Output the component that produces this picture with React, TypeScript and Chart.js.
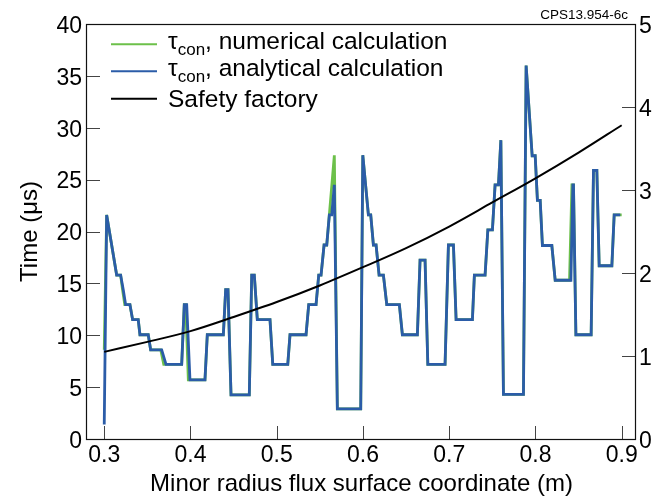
import React, { useEffect, useRef } from 'react';
import { Chart, registerables } from 'chart.js';

Chart.register(...registerables);

const FONT = '"Liberation Sans", Arial, Helvetica, sans-serif';

// x ticks and axis labels
const xTicks = [0.3, 0.4, 0.5, 0.6, 0.7, 0.8, 0.9];
const yTicks = [0, 5, 10, 15, 20, 25, 30, 35, 40];
const y2Ticks = [0, 1, 2, 3, 4, 5];
const xTitle = 'Minor radius flux surface coordinate (m)';
const yTitle = 'Time (\u03BCs)';
const stampText = 'CPS13.954-6c';

// tau_con, analytical calculation (blue)
const radiusAnalytical = [
  0.3000, 0.3028, 0.3144, 0.3190, 0.3220, 0.3248, 0.3298, 0.3329, 0.3394, 0.3414,
  0.3510, 0.3538, 0.3666, 0.3716, 0.3898, 0.3928, 0.3956, 0.3994, 0.4168, 0.4195,
  0.4381, 0.4408, 0.4435, 0.4470, 0.4682, 0.4710, 0.4740, 0.4775, 0.4922, 0.4954,
  0.5128, 0.5154, 0.5340, 0.5371, 0.5456, 0.5487, 0.5514, 0.5549, 0.5580, 0.5610,
  0.5638, 0.5668, 0.5703, 0.5974, 0.5998, 0.6063, 0.6090, 0.6121, 0.6152, 0.6187,
  0.6237, 0.6276, 0.6422, 0.6457, 0.6631, 0.6662, 0.6720, 0.6752, 0.6952, 0.6991,
  0.7049, 0.7080, 0.7269, 0.7292, 0.7416, 0.7448, 0.7501, 0.7532, 0.7571, 0.7599,
  0.7629, 0.7861, 0.7892, 0.7962, 0.7997, 0.8023, 0.8055, 0.8081, 0.8190, 0.8229,
  0.8411, 0.8434, 0.8441, 0.8469, 0.8646, 0.8673, 0.8712, 0.8739, 0.8886, 0.8913,
  0.8983,
];
const tauAnalytical = [
  1.4, 21.6, 15.8, 15.8, 14.4, 12.95, 12.95, 11.5, 11.5, 10.05,
  10.05, 8.6, 8.6, 7.2, 7.2, 12.95, 12.95, 5.7, 5.7, 10.05,
  10.05, 14.4, 14.4, 4.25, 4.25, 15.8, 15.8, 11.5, 11.5, 7.2,
  7.2, 10.05, 10.05, 12.95, 12.95, 15.8, 15.8, 18.7, 18.7, 21.6,
  21.6, 24.5, 2.9, 2.9, 27.35, 21.6, 21.6, 18.7, 18.7, 15.8,
  15.8, 12.95, 12.95, 10.05, 10.05, 17.25, 17.25, 7.2, 7.2, 18.7,
  18.7, 11.5, 11.5, 15.8, 15.8, 20.15, 20.15, 24.5, 24.5, 28.8,
  4.3, 4.3, 36.0, 27.3, 27.3, 23.0, 23.0, 18.65, 18.65, 15.3,
  15.3, 24.5, 24.5, 10.05, 10.05, 25.9, 25.9, 16.7, 16.7, 21.6,
  21.6,
];

// tau_con, numerical calculation (green)
const radiusNumerical = [
  0.3000, 0.3028, 0.3144, 0.3190, 0.3212, 0.3238, 0.3298, 0.3329, 0.3394, 0.3414,
  0.3510, 0.3538, 0.3655, 0.3690, 0.3898, 0.3928, 0.3945, 0.3975, 0.4168, 0.4195,
  0.4381, 0.4408, 0.4435, 0.4470, 0.4682, 0.4710, 0.4740, 0.4775, 0.4922, 0.4954,
  0.5128, 0.5154, 0.5340, 0.5371, 0.5456, 0.5487, 0.5514, 0.5549, 0.5580, 0.5610,
  0.5668, 0.5703, 0.5974, 0.5998, 0.6063, 0.6090, 0.6121, 0.6152, 0.6187, 0.6237,
  0.6276, 0.6422, 0.6457, 0.6631, 0.6662, 0.6720, 0.6752, 0.6952, 0.6991, 0.7049,
  0.7080, 0.7269, 0.7292, 0.7416, 0.7448, 0.7501, 0.7532, 0.7571, 0.7599, 0.7629,
  0.7861, 0.7892, 0.7962, 0.7997, 0.8023, 0.8055, 0.8081, 0.8190, 0.8229, 0.8395,
  0.8423, 0.8441, 0.8469, 0.8646, 0.8673, 0.8712, 0.8739, 0.8886, 0.8913, 0.9000,
];
const tauNumerical = [
  8.6, 21.6, 15.8, 15.8, 14.4, 12.95, 12.95, 11.5, 11.5, 10.05,
  10.05, 8.6, 8.6, 7.2, 7.2, 12.95, 12.95, 5.7, 5.7, 10.05,
  10.05, 14.4, 14.4, 4.25, 4.25, 15.8, 15.8, 11.5, 11.5, 7.2,
  7.2, 10.05, 10.05, 12.95, 12.95, 15.8, 15.8, 18.7, 18.7, 21.6,
  27.35, 2.9, 2.9, 27.35, 21.6, 21.6, 18.7, 18.7, 15.8, 15.8,
  12.95, 12.95, 10.05, 10.05, 17.25, 17.25, 7.2, 7.2, 18.7, 18.7,
  11.5, 11.5, 15.8, 15.8, 20.15, 20.15, 24.5, 24.5, 28.8, 4.3,
  4.3, 36.0, 27.3, 27.3, 23.0, 23.0, 18.65, 18.65, 15.3, 15.3,
  24.5, 24.5, 10.05, 10.05, 25.9, 25.9, 16.7, 16.7, 21.6, 21.6,
];

// Safety factor (right axis)
const radiusSafety = [0.30, 0.35, 0.40, 0.45, 0.50, 0.55, 0.60, 0.65, 0.70, 0.75, 0.80, 0.85, 0.90];
const safetyFactor = [1.05, 1.17, 1.30, 1.47, 1.65, 1.85, 2.07, 2.30, 2.56, 2.85, 3.14, 3.45, 3.78];

const GREEN = '#6cc04a';
const BLUE = '#2b5ca8';
const BLACK = '#000000';

const pts = (xs: number[], ys: number[]) => {
  const n = Math.min(xs.length, ys.length);
  const out: { x: number; y: number }[] = [];
  for (let i = 0; i < n; i++) out.push({ x: xs[i], y: ys[i] });
  return out;
};

const framePlugin = {
  id: 'rootFrame',
  afterDraw(chart: any) {
    const { ctx, chartArea: a, scales } = chart;
    ctx.save();
    // inward tick marks
    ctx.strokeStyle = '#444';
    ctx.lineWidth = 1;
    ctx.beginPath();
    scales.x.ticks.forEach((t: any) => {
      const p = Math.round(scales.x.getPixelForValue(t.value)) + 0.5;
      ctx.moveTo(p, a.bottom);
      ctx.lineTo(p, a.bottom - 13);
    });
    scales.y.ticks.forEach((t: any) => {
      const p = Math.round(scales.y.getPixelForValue(t.value)) + 0.5;
      ctx.moveTo(a.left, p);
      ctx.lineTo(a.left + 13, p);
    });
    scales.y2.ticks.forEach((t: any) => {
      const p = Math.round(scales.y2.getPixelForValue(t.value)) + 0.5;
      ctx.moveTo(a.right, p);
      ctx.lineTo(a.right - 14, p);
    });
    ctx.stroke();
    // frame
    ctx.strokeStyle = '#111';
    ctx.lineWidth = 1.2;
    ctx.strokeRect(a.left - 0.5, a.top + 0.5, a.right - a.left, a.bottom - a.top);

    // legend
    const rowY = [44.3, 71.3, 98.8];
    chart.data.datasets.forEach((ds: any, i: number) => {
      const y = rowY[i];
      ctx.strokeStyle = ds.borderColor;
      ctx.lineWidth = 2;
      ctx.beginPath();
      ctx.moveTo(111, y);
      ctx.lineTo(157, y);
      ctx.stroke();
      ctx.fillStyle = '#000';
      ctx.textAlign = 'left';
      ctx.textBaseline = 'alphabetic';
      const label: string = ds.label;
      let x = 168;
      if (label.startsWith('\u03C4con')) {
        const base = y + 4.5;
        ctx.font = `24.5px ${FONT}`;
        ctx.fillText('\u03C4', x, base);
        x += ctx.measureText('\u03C4').width;
        ctx.font = `17px ${FONT}`;
        ctx.fillText('con', x, base + 6);
        x += ctx.measureText('con').width;
        ctx.font = `24.5px ${FONT}`;
        ctx.fillText(label.slice(4), x, base);
      } else {
        ctx.font = `24.5px ${FONT}`;
        ctx.fillText(label, x, y + 8);
      }
    });

    // stamp
    ctx.font = `13.5px ${FONT}`;
    ctx.fillStyle = '#000';
    ctx.textAlign = 'right';
    ctx.fillText(stampText, 628, 19);
    ctx.restore();
  },
};

export default function App() {
  const ref = useRef<HTMLCanvasElement>(null);
  useEffect(() => {
    const tickFont = { size: 23, family: FONT };
    const titleFont = { size: 24, family: FONT };
    const chart = new Chart(ref.current as HTMLCanvasElement, {
      type: 'line',
      data: {
        datasets: [
          {
            label: '\u03C4con, numerical calculation',
            data: pts(radiusNumerical, tauNumerical),
            borderColor: GREEN,
            borderWidth: 2.8,
            pointRadius: 0,
            tension: 0,
            yAxisID: 'y',
            order: 3,
          },
          {
            label: '\u03C4con, analytical calculation',
            data: pts(radiusAnalytical, tauAnalytical),
            borderColor: BLUE,
            borderWidth: 2.8,
            pointRadius: 0,
            tension: 0,
            yAxisID: 'y',
            order: 2,
          },
          {
            label: 'Safety factory',
            data: pts(radiusSafety, safetyFactor),
            borderColor: BLACK,
            borderWidth: 2,
            pointRadius: 0,
            cubicInterpolationMode: 'monotone',
            yAxisID: 'y2',
            order: 1,
          },
        ] as any,
      },
      options: {
        responsive: false,
        animation: false,
        devicePixelRatio: 1,
        layout: { padding: { top: 24, left: 0, right: 0, bottom: 0 } },
        plugins: { legend: { display: false }, tooltip: { enabled: false } },
        scales: {
          x: {
            type: 'linear',
            min: 0.28,
            max: 0.9166,
            grid: { display: false, drawTicks: false },
            border: { display: false },
            ticks: {
              font: tickFont,
              color: '#000',
              padding: 3,
              maxRotation: 0,
              autoSkip: false,
              callback: (v: any) => Number(v).toFixed(1),
            },
            afterBuildTicks: (s: any) => {
              s.ticks = xTicks.map((v) => ({ value: v }));
            },
            afterFit: (s: any) => {
              s.height = 63;
            },
            title: {
              display: true,
              text: xTitle,
              font: titleFont,
              color: '#000',
              padding: { top: 0, bottom: 3 },
            },
          },
          y: {
            type: 'linear',
            position: 'left',
            min: 0,
            max: 40,
            grid: { display: false, drawTicks: false },
            border: { display: false },
            ticks: {
              font: tickFont,
              color: '#000',
              padding: 5,
              labelOffset: 2.5,
              callback: (v: any) => String(v),
            },
            afterBuildTicks: (s: any) => {
              s.ticks = yTicks.map((v) => ({ value: v }));
            },
            afterFit: (s: any) => {
              s.width = 87;
            },
            title: {
              display: true,
              text: yTitle,
              font: titleFont,
              color: '#000',
              padding: { top: 16, bottom: 0 },
            },
          },
          y2: {
            type: 'linear',
            position: 'right',
            min: 0,
            max: 5,
            grid: { display: false, drawTicks: false },
            border: { display: false },
            ticks: {
              font: tickFont,
              color: '#000',
              padding: 3,
              labelOffset: 2.5,
              callback: (v: any) => String(v),
            },
            afterBuildTicks: (s: any) => {
              s.ticks = y2Ticks.map((v) => ({ value: v }));
            },
            afterFit: (s: any) => {
              s.width = 16;
            },
          },
        },
      } as any,
      plugins: [framePlugin],
    });
    return () => chart.destroy();
  }, []);
  return (
    <div style={{ position: 'fixed', left: 0, top: 0, width: 652, height: 502, background: '#fff' }}>
      <canvas ref={ref} width={652} height={502} style={{ display: 'block' }} />
    </div>
  );
}
